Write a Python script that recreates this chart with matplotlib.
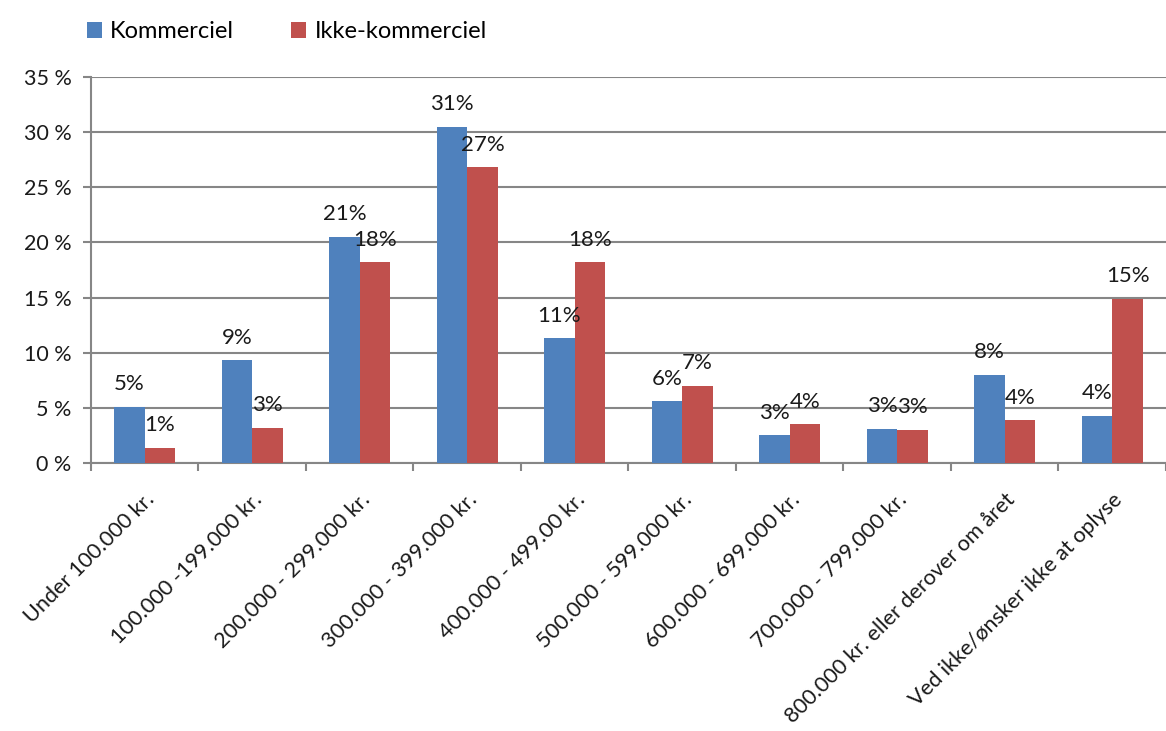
import numpy as np
import matplotlib.pyplot as plt

plt.rcParams['font.family'] = ['Lato', 'DejaVu Sans']

# ============================================================================
# DATA
# ============================================================================

categories = [
    'Under 100.000 kr.',
    '100.000 -199.000 kr.',
    '200.000 - 299.000 kr.',
    '300.000 - 399.000 kr.',
    '400.000 - 499.00 kr.',
    '500.000 - 599.000 kr.',
    '600.000 - 699.000 kr.',
    '700.000 - 799.000 kr.',
    '800.000 kr. eller derover om året',
    'Ved ikke/ønsker ikke at oplyse',
]
series_names = ['Kommerciel', 'Ikke-kommerciel']
kommerciel = [5.1, 9.3, 20.5, 30.5, 11.3, 5.6, 2.5, 3.1, 8.0, 4.3]
ikke_kommerciel = [1.4, 3.2, 18.2, 26.8, 18.2, 7.0, 3.5, 3.0, 3.9, 14.9]
kommerciel_labels = ['5%', '9%', '21%', '31%', '11%', '6%', '3%', '3%', '8%', '4%']
ikke_labels = ['1%', '3%', '18%', '27%', '18%', '7%', '4%', '3%', '4%', '15%']
y_ticks = [0, 5, 10, 15, 20, 25, 30, 35]

colors = ['#4F81BD', '#C0504D']
grid_color = '#868686'

# ============================================================================
# PLOT
# ============================================================================

fig = plt.figure(figsize=(11.66, 7.31), dpi=100)
ax = fig.add_axes([0.078, 0.3666, 0.922, 0.528])

x = np.arange(len(categories))
width = 0.285

bars1 = ax.bar(x - width / 2, kommerciel, width, color=colors[0],
               label=series_names[0], zorder=3)
bars2 = ax.bar(x + width / 2, ikke_kommerciel, width, color=colors[1],
               label=series_names[1], zorder=3)

for bars, vals, labels in [(bars1, kommerciel, kommerciel_labels),
                           (bars2, ikke_kommerciel, ikke_labels)]:
    for bar, val, lab in zip(bars, vals, labels):
        ax.annotate(lab, (bar.get_x() + bar.get_width() / 2, val),
                    xytext=(0, 9), textcoords='offset points',
                    ha='center', va='bottom', fontsize=16, color='#1a1a1a')

ax.set_xlim(-0.5, len(categories) - 0.5)
ax.set_ylim(0, 35)
ax.set_yticks(y_ticks)
ax.set_yticklabels([f'{t} %' for t in y_ticks], fontsize=15.5, color='#1a1a1a')
ax.yaxis.grid(True, color=grid_color, linewidth=1.5, zorder=0)
ax.set_axisbelow(True)

# category labels at centres, tick marks at boundaries
ax.set_xticks(x)
ax.set_xticklabels(categories, rotation=45, ha='right', rotation_mode='anchor',
                   fontsize=15.6, color='#1a1a1a')
ax.tick_params(axis='x', which='major', length=0, pad=19)
ax.set_xticks(np.arange(-0.5, len(categories) + 0.5, 1), minor=True)
ax.tick_params(axis='x', which='minor', length=6, color=grid_color, width=1.5)
ax.tick_params(axis='y', length=6, color=grid_color, width=1.5, pad=8)

for side in ['top', 'right']:
    ax.spines[side].set_visible(False)
for side in ['left', 'bottom']:
    ax.spines[side].set_color(grid_color)
    ax.spines[side].set_linewidth(1.5)

fig.legend(loc='upper left', bbox_to_anchor=(0.056, 1.0), ncol=2,
           frameon=False, fontsize=17, handlelength=0.65, handleheight=0.65,
           handletextpad=0.35, columnspacing=2.4)

plt.savefig('out.png', dpi=100)
